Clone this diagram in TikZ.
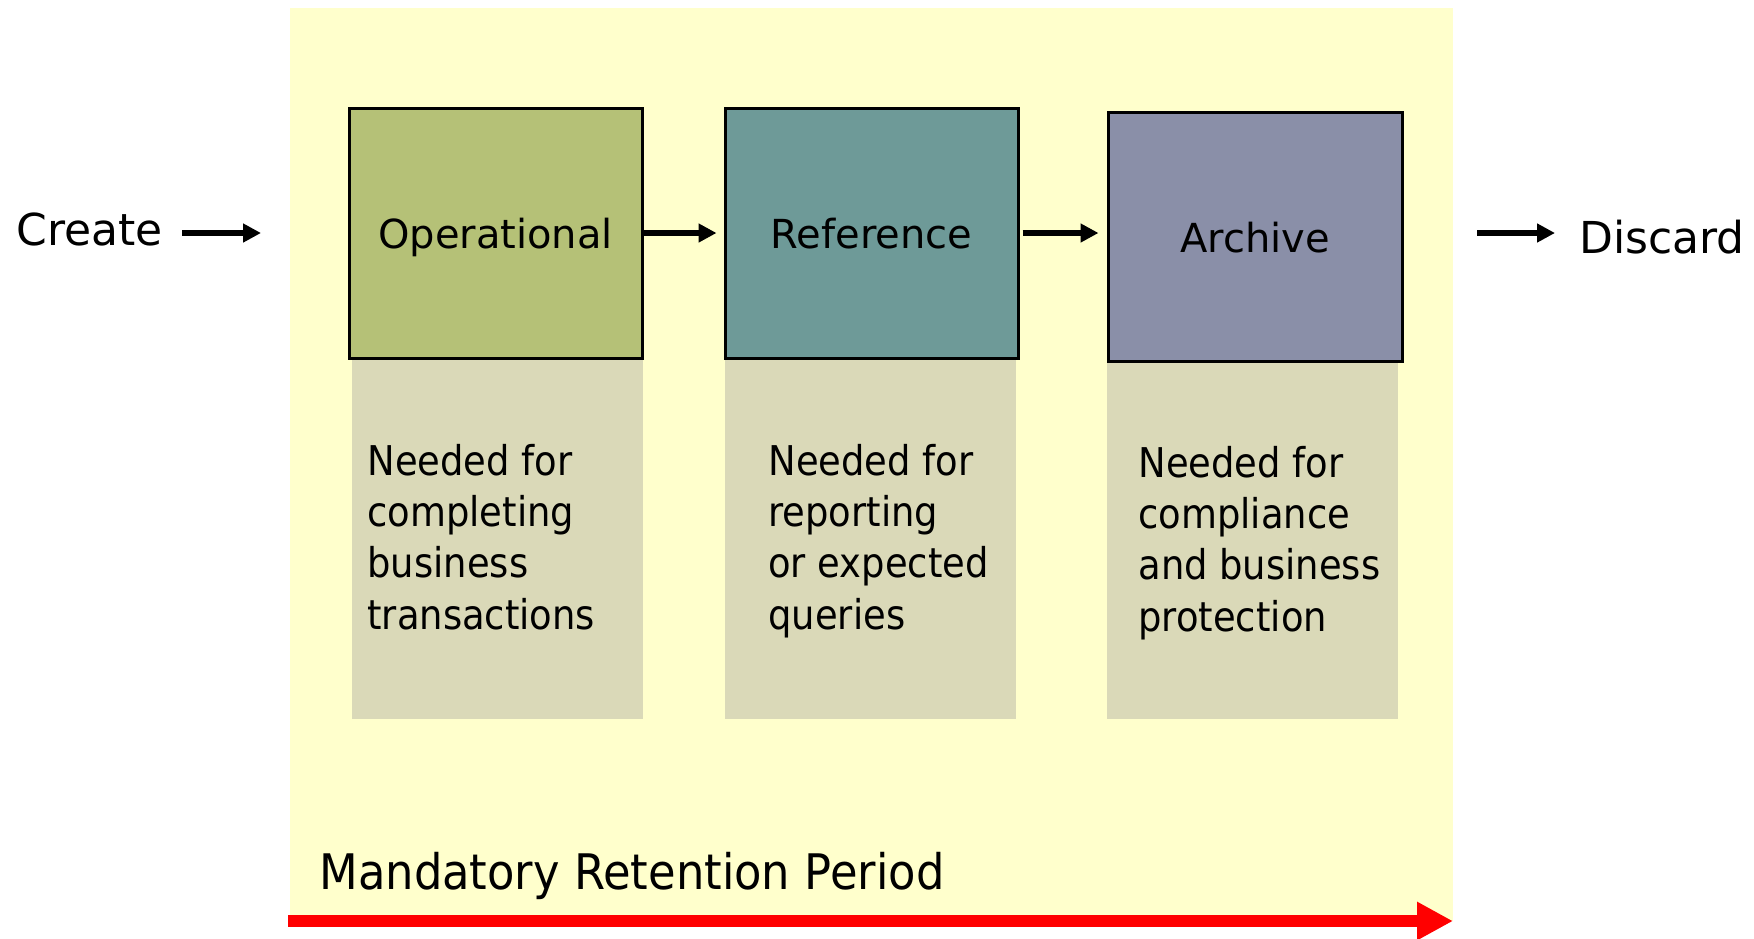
\documentclass[tikz,border=0pt]{standalone}
\usepackage{fontspec}
\setmainfont{DejaVu Sans}
\newfontfamily\bodyfont[FakeStretch=0.9]{DejaVu Sans}
\newfontfamily\periodfont[FakeStretch=0.915]{DejaVu Sans}
\usetikzlibrary{arrows.meta}
\definecolor{bgyellow}{HTML}{FFFFCC}
\definecolor{opgreen}{HTML}{B5C177}
\definecolor{refteal}{HTML}{6E9A98}
\definecolor{archblue}{HTML}{8A8FA8}
\definecolor{hatchfill}{HTML}{DAD9B8}
\begin{document}
\begin{tikzpicture}[x=0.5pt,y=-0.5pt,
  stagebox/.style={draw=black,line width=1.5pt,minimum width=146.5pt,minimum height=125pt,
    inner sep=0pt,text height=15.5pt,text depth=0pt,font=\fontsize{20}{24}\selectfont},
  conn/.style={line width=2.75pt,-{Triangle[length=9pt,width=9pt]}},
  period/.style={red,line width=6pt,-{Triangle[length=18pt,width=18pt]}},
  bodytext/.style={anchor=base west,inner sep=0pt},
  sidetext/.style={anchor=base west,inner sep=0pt,font=\fontsize{22}{26}\selectfont}]
\useasboundingbox (0,0) rectangle (1754,938);
% background period
\fill[bgyellow] (290,8) rectangle (1453,921);
% shaded description areas
\fill[hatchfill] (352,358) rectangle (643,719);
\fill[hatchfill] (725,358) rectangle (1016,719);
\fill[hatchfill] (1107,361) rectangle (1398,719);
% stages
\node[stagebox,fill=opgreen] (op) at (495.5,233) {Operational};
\node[stagebox,fill=refteal] (ref) at (871.5,233) {Reference};
\node[stagebox,fill=archblue,minimum width=147pt,minimum height=124.5pt] (arch) at (1255,236.5) {Archive};
% descriptions
\node[bodytext] (d1) at (367,475) {\parbox[t]{130pt}{\raggedright\bodyfont\fontsize{20.5}{25.7}\selectfont Needed for\\completing\\business\\transactions}};
\node[bodytext] (d2) at (768,475) {\parbox[t]{130pt}{\raggedright\bodyfont\fontsize{20.5}{25.7}\selectfont Needed for\\reporting\\or expected\\queries}};
\node[bodytext] (d3) at (1138,477) {\parbox[t]{130pt}{\raggedright\bodyfont\fontsize{20.5}{25.7}\selectfont Needed for\\compliance\\and business\\protection}};
% side labels
\node[sidetext] (create) at (16,245) {Create};
\node[sidetext] (discard) at (1579,253) {Discard};
\node[anchor=base west,inner sep=0pt,font=\periodfont\fontsize{24.5}{28}\selectfont] (mrp) at (319,889) {Mandatory Retention Period};
% connectors
\coordinate (cs) at (182,233);
\coordinate (ce) at (261,233);
\coordinate (ds) at (1477,233);
\coordinate (de) at (1555,233);
\draw[conn] (cs) -- (ce);
\draw[conn,shorten >=3.5pt] (op.east) -- (ref.west);
\draw[conn,shorten <=1.5pt,shorten >=4pt] (ref.east) -- (arch.west |- ref.east);
\draw[conn] (ds) -- (de);
% period arrow
\coordinate (ps) at (288,921);
\coordinate (pe) at (1453,921);
\draw[period] (ps) -- (pe);
\end{tikzpicture}
\end{document}
